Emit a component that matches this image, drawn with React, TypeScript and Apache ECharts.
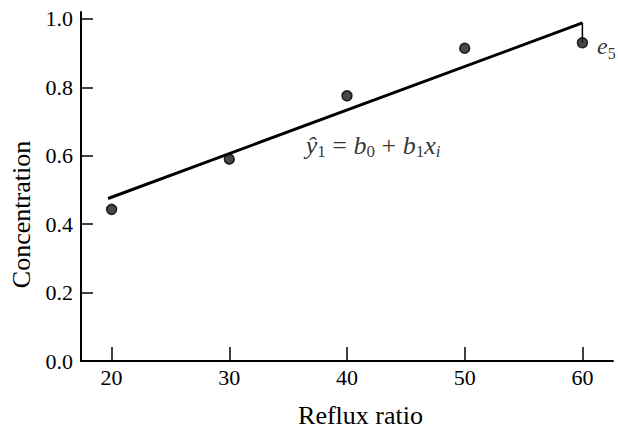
import React, { useEffect, useRef } from "react";
import * as echarts from "echarts";

const refluxRatio = [20, 30, 40, 50, 60];
const concentration = [0.443, 0.59, 0.775, 0.914, 0.93];
const fitLine = [
  [19.7, 0.475],
  [60, 0.988],
];
const residualE5 = [
  [60, 0.93],
  [60, 0.988],
];
const xTicks = [20, 30, 40, 50, 60];
const yTicks = [0, 0.2, 0.4, 0.6, 0.8, 1.0];
const equationAnchor = [36.5, 0.63];
const e5Anchor = [61.25, 0.92];

const FONT = "Liberation Serif";
const INK = "#000";

export default function App() {
  const ref = useRef<HTMLDivElement>(null);
  useEffect(() => {
    if (!ref.current) return;
    const chart = echarts.init(ref.current, undefined, { renderer: "svg" });
    chart.setOption({
      animation: false,
      backgroundColor: "#fff",
      textStyle: { fontFamily: FONT },
      grid: { left: 80, right: 5, top: 12, bottom: 65 },
      xAxis: {
        type: "value",
        min: 17.4,
        max: 62.6,
        name: "Reflux ratio",
        nameLocation: "middle",
        nameGap: 41,
        nameTextStyle: { fontFamily: FONT, fontSize: 26, color: INK, padding: [0, 0, 0, 27] },
        axisLine: { show: true, onZero: false, lineStyle: { color: INK, width: 2 } },
        axisTick: { show: true, inside: true, length: 14, customValues: xTicks, lineStyle: { color: INK, width: 1.5 } },
        axisLabel: {
          customValues: xTicks,
          formatter: (v: number) => String(Math.round(v)),
          fontFamily: FONT,
          fontSize: 22,
          color: INK,
          margin: 5,
        },
        splitLine: { show: false },
      },
      yAxis: {
        type: "value",
        min: 0,
        max: 1.02,
        name: "Concentration",
        nameLocation: "middle",
        nameGap: 47,
        nameTextStyle: { fontFamily: FONT, fontSize: 26, color: INK, padding: [0, 56, 0, 0] },
        axisLine: { show: true, onZero: false, lineStyle: { color: INK, width: 2 } },
        axisTick: { show: true, inside: true, length: 12, customValues: yTicks, lineStyle: { color: INK, width: 1.5 } },
        axisLabel: {
          customValues: yTicks,
          formatter: (v: number) => v.toFixed(1),
          fontFamily: FONT,
          fontSize: 22,
          color: INK,
          margin: 8,
        },
        splitLine: { show: false },
      },
      series: [
        {
          type: "line",
          data: fitLine,
          symbol: "none",
          lineStyle: { color: INK, width: 3 },
          z: 2,
        },
        {
          type: "line",
          data: residualE5,
          symbol: "none",
          lineStyle: { color: INK, width: 1.5 },
          z: 2,
        },
        {
          type: "scatter",
          data: refluxRatio.map((x, i) => [x, concentration[i]]),
          symbol: "circle",
          symbolSize: 10,
          itemStyle: { color: "#1a1a1a", borderColor: "#000", borderWidth: 1.5 },
          z: 3,
        },
        {
          type: "scatter",
          symbolSize: 0,
          silent: true,
          data: [
            {
              value: equationAnchor,
              label: {
                show: true,
                position: "right",
                distance: 0,
                formatter: "{it|ŷ}{sub|1}{op| = }{it|b}{sub|0}{op| + }{it|b}{sub|1}{it|x}{subi|i}",
                rich: {
                  it: { fontFamily: FONT, fontStyle: "italic", fontSize: 26, color: INK, lineHeight: 30 },
                  op: { fontFamily: FONT, fontSize: 26, color: INK, lineHeight: 30 },
                  sub: { fontFamily: FONT, fontSize: 17, color: INK, lineHeight: 16, verticalAlign: "bottom" },
                  subi: { fontFamily: FONT, fontStyle: "italic", fontSize: 17, color: INK, lineHeight: 16, verticalAlign: "bottom" },
                },
              },
            },
            {
              value: e5Anchor,
              label: {
                show: true,
                position: "right",
                distance: 0,
                formatter: "{it|e}{sub|5}",
                rich: {
                  it: { fontFamily: FONT, fontStyle: "italic", fontSize: 24, color: INK, lineHeight: 30 },
                  sub: { fontFamily: FONT, fontSize: 16, color: INK, lineHeight: 16, verticalAlign: "bottom" },
                },
              },
            },
          ],
          z: 4,
        },
      ],
    });
    return () => chart.dispose();
  }, []);
  return <div ref={ref} style={{ width: 618, height: 433, position: "absolute", left: 0, top: 0 }} />;
}
